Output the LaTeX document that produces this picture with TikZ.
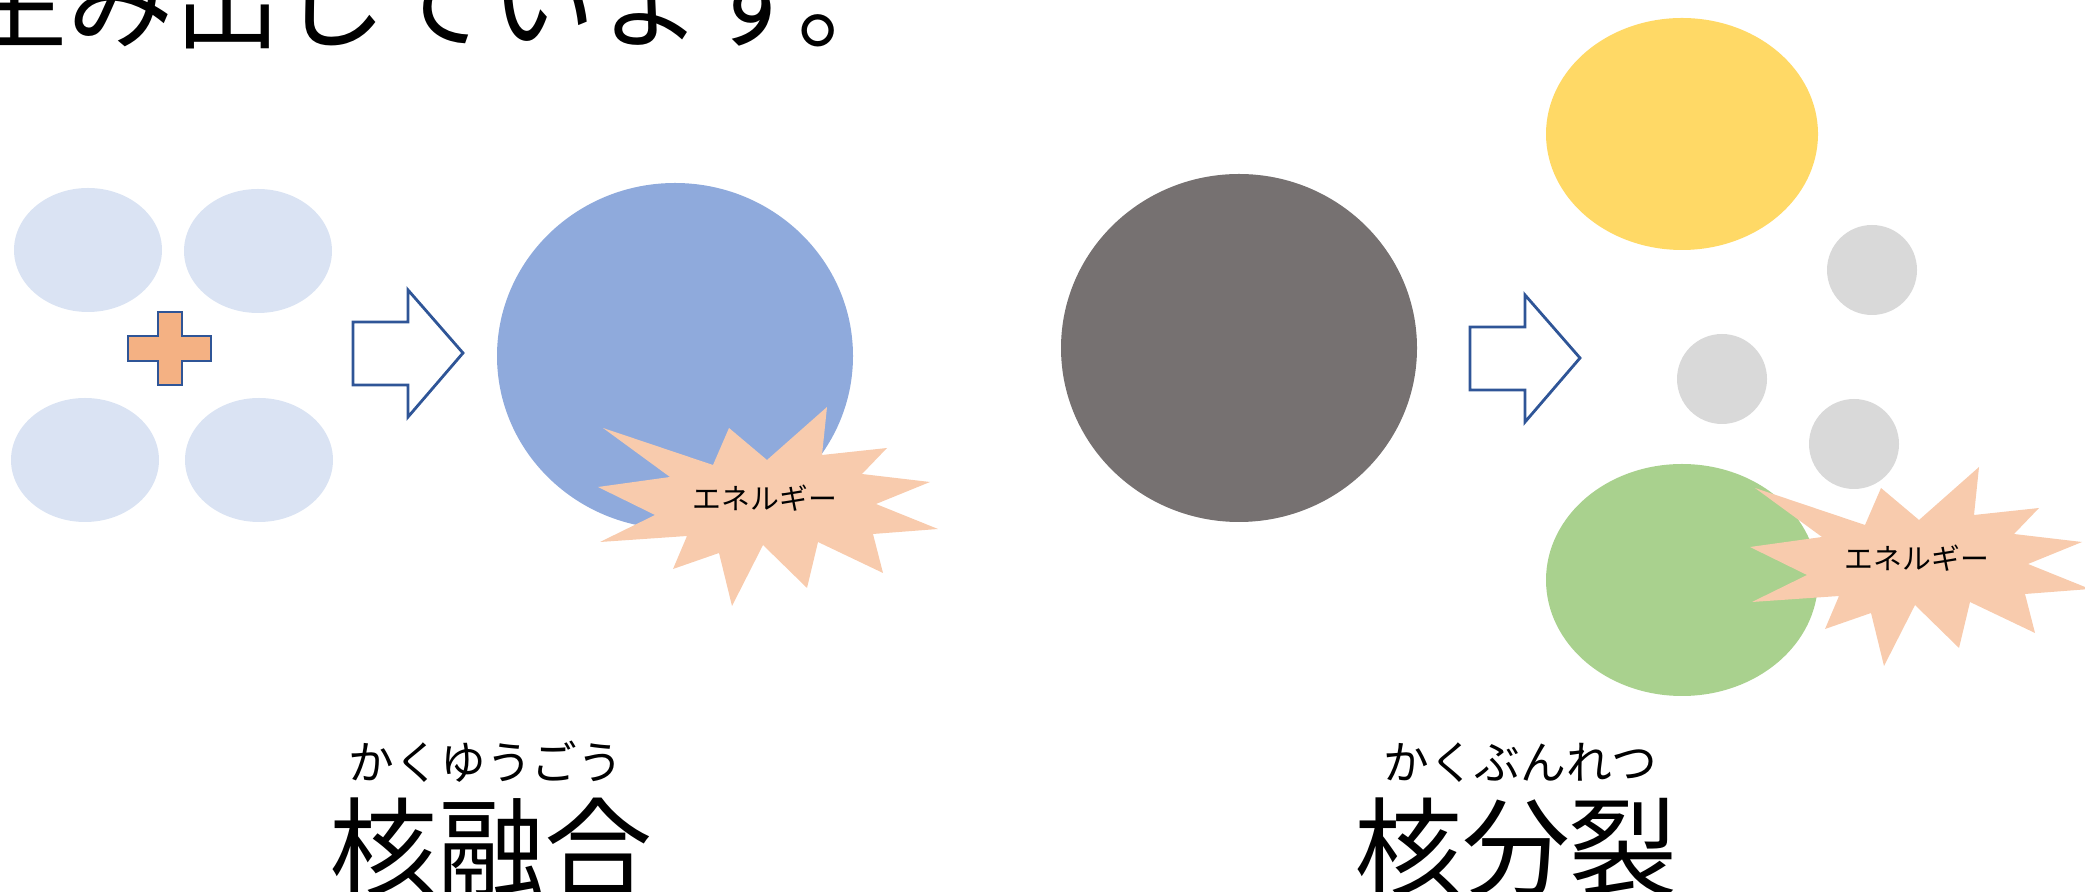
\documentclass[tikz,border=0pt]{standalone}
\usepackage{fontspec}
\setmainfont{Noto Sans CJK JP}
\usetikzlibrary{positioning}

\definecolor{paleblue}{HTML}{DAE3F3}
\definecolor{fuseblue}{HTML}{8FAADC}
\definecolor{edgeblue}{HTML}{2F5597}
\definecolor{plusorange}{HTML}{F4B183}
\definecolor{burstpeach}{HTML}{F8CBAD}
\definecolor{heavygray}{HTML}{767171}
\definecolor{fragyellow}{HTML}{FFD966}
\definecolor{fraggreen}{HTML}{A9D18E}
\definecolor{neutrongray}{HTML}{D9D9D9}

\begin{document}
\begin{tikzpicture}[x=0.01cm, y=-0.01cm,
  headline/.style={font=\fontsize{30.2pt}{36pt}\selectfont, inner sep=0pt},
  ruby/.style={font=\fontsize{13pt}{15pt}\selectfont, inner sep=0pt, anchor=base},
  bigword/.style={font=\fontsize{30.7pt}{36pt}\selectfont, inner sep=0pt, anchor=base},
  energy/.style={font=\fontsize{8.2pt}{10pt}\selectfont, inner sep=0pt},
  outline/.style={draw=edgeblue, line width=0.8pt, line join=miter},
  blockarrow/.pic={
    \draw[outline, fill=white] (353,322) -- (408,322) -- (408,290) -- (463,353)
      -- (408,417) -- (408,385) -- (353,385) -- cycle;},
  burst/.pic={
    \fill[burstpeach] (603,428) -- (713,465) -- (729,428) -- (767,460) -- (827,407)
      -- (822,455) -- (887,448) -- (862,474) -- (930,482) -- (876,504) -- (938,529)
      -- (873,534) -- (883,573) -- (818,542) -- (807,588) -- (763,545) -- (732,606)
      -- (719,553) -- (673,569) -- (687,536) -- (600,542) -- (655,515) -- (598,487)
      -- (670,477) -- cycle;}]
\useasboundingbox (0,0) rectangle (2085,892);
\clip (0,0) rectangle (2085,892);

% sentence running off the top edge
\node[headline, anchor=base west] (lead) at (-39,41) {生み出しています。};

% fusion
\fill[paleblue] (88,250) ellipse [x radius=74, y radius=62];
\fill[paleblue] (258,251) ellipse [x radius=74, y radius=62];
\fill[paleblue] (85,460) ellipse [x radius=74, y radius=62];
\fill[paleblue] (259,460) ellipse [x radius=74, y radius=62];
\draw[outline, fill=plusorange] (158,312) -- (182,312) -- (182,336) -- (211,336)
  -- (211,361) -- (182,361) -- (182,385) -- (158,385) -- (158,361) -- (128,361)
  -- (128,336) -- (158,336) -- cycle;
\pic at (0,0) {blockarrow};
\fill[fuseblue] (675,356) ellipse [x radius=178, y radius=173];
\pic at (0,0) {burst};
\node[energy] (energyL) at (765,498) {エネルギー};

% fission
\fill[heavygray] (1239,348) ellipse [x radius=178, y radius=174];
\pic at (1117,5) {blockarrow};
\fill[fragyellow] (1682,134) ellipse [x radius=136, y radius=116];
\fill[neutrongray] (1872,270) circle [radius=45];
\fill[neutrongray] (1722,379) circle [radius=45];
\fill[neutrongray] (1854,444) circle [radius=45];
\fill[fraggreen] (1682,580) ellipse [x radius=136, y radius=116];
\pic at (1152,60) {burst};
\node[energy] (energyR) at (1917,558) {エネルギー};

% captions
\node[ruby] (rubyL) at (486,780) {かくゆうごう};
\node[bigword] (fusion) at (491,889) {核融合};
\node[ruby] (rubyR) at (1520,780) {かくぶんれつ};
\node[bigword] (fission) at (1516,889) {核分裂};
\end{tikzpicture}
\end{document}
